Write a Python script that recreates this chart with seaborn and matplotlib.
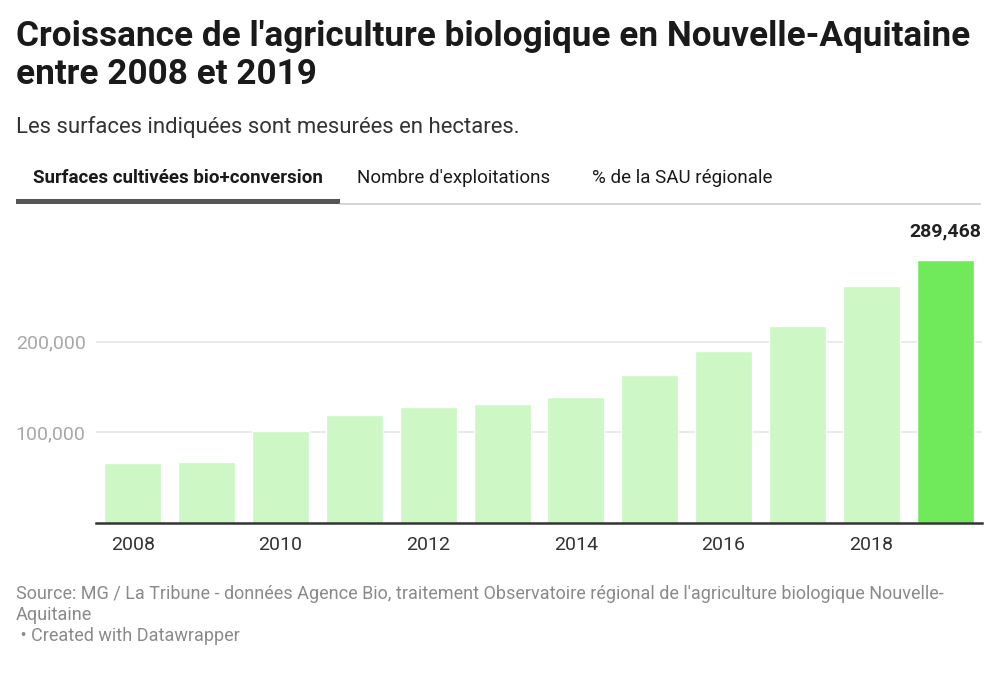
import numpy as np
import pandas as pd
import seaborn as sns
import matplotlib.pyplot as plt
from matplotlib.patches import Rectangle
from matplotlib.lines import Line2D

# Values (hectares, bio + conversion)
years = ["2008", "2009", "2010", "2011", "2012", "2013",
         "2014", "2015", "2016", "2017", "2018", "2019"]
surfaces = [66400, 67500, 101400, 118900, 127700, 130700,
            138700, 162800, 189300, 216900, 261100, 289468]
y_ticks = [100000, 200000]
y_tick_labels = ["100,000", "200,000"]
x_labels = ["2008", "", "2010", "", "2012", "", "2014", "", "2016", "", "2018", ""]

light_green = "#cdf7c5"
strong_green = "#70ea5b"
palette = {y: light_green for y in years}
palette[years[-1]] = strong_green

df = pd.DataFrame({"year": years, "surface": surfaces})

sns.set_style("white")
plt.rcParams["font.family"] = ["Roboto", "DejaVu Sans"]

W, H = 996, 675
fig = plt.figure(figsize=(W / 100, H / 100), dpi=100)

# axes: x 96..982 px, y baseline at 523 px
ax_left, ax_right = 96, 982
ax_bottom, ax_top = 523, 220
ax = fig.add_axes([ax_left / W, 1 - ax_bottom / H,
                   (ax_right - ax_left) / W, (ax_bottom - ax_top) / H])

sns.barplot(data=df, x="year", y="surface", hue="year", palette=palette,
            legend=False, width=0.77, saturation=1, ax=ax, zorder=2)

ax.set_ylim(0, (ax_bottom - ax_top) / 90.7 * 100000)
ax.set_xlim(-0.5, len(years) - 0.5)
ax.set_yticks(y_ticks)
ax.set_yticklabels(y_tick_labels, color="#a8a8a8", fontsize=14)
ax.set_xticks(range(len(years)))
ax.set_xticklabels(x_labels, color="#333333", fontsize=14)
ax.tick_params(axis="y", length=0, pad=7.5)
ax.tick_params(axis="x", length=0, pad=9)
ax.grid(axis="y", color="#e6e6e6", linewidth=1.2, zorder=0)
ax.set_axisbelow(True)
for s in ["top", "right", "left"]:
    ax.spines[s].set_visible(False)
ax.spines["bottom"].set_color("#333333")
ax.spines["bottom"].set_linewidth(1.8)
ax.spines["bottom"].set_zorder(3)
ax.set_xlabel("")
ax.set_ylabel("")

# value label on the last bar
ax.text(len(years) - 1, surfaces[-1] + 22000, f"{surfaces[-1]:,}",
        ha="center", va="bottom", fontsize=14, fontweight="bold", color="#222222")

# header
fig.text(16 / W, 1 - 20 / H,
         "Croissance de l'agriculture biologique en Nouvelle-Aquitaine\nentre 2008 et 2019",
         ha="left", va="top", fontsize=25.3, fontweight="bold", color="#1a1a1a",
         linespacing=1.2)
fig.text(16 / W, 1 - 127 / H, "Les surfaces indiquées sont mesurées en hectares.",
         ha="left", va="center", fontsize=15.9, color="#333333")

# tabs
fig.text(33 / W, 1 - 178 / H, "Surfaces cultivées bio+conversion",
         ha="left", va="center", fontsize=13.5, fontweight="bold", color="#1a1a1a")
fig.text(357 / W, 1 - 178 / H, "Nombre d'exploitations",
         ha="left", va="center", fontsize=13.5, color="#1a1a1a")
fig.text(592 / W, 1 - 178 / H, "% de la SAU régionale",
         ha="left", va="center", fontsize=13.5, color="#1a1a1a")
fig.add_artist(Line2D([340 / W, 980 / W], [1 - 203.5 / H, 1 - 203.5 / H],
                      color="#cccccc", linewidth=1.2))
fig.add_artist(Rectangle((16 / W, 1 - 204 / H), (340 - 16) / W, 5 / H,
                         color="#555555", linewidth=0))

# footer
fig.text(16 / W, 1 - 585 / H,
         "Source: MG / La Tribune - données Agence Bio, traitement Observatoire régional de l'agriculture biologique Nouvelle-\nAquitaine\n • Created with Datawrapper",
         ha="left", va="top", fontsize=13, color="#8a8a8a", linespacing=1.2)

fig.savefig("out.png", dpi=100, facecolor="white")
